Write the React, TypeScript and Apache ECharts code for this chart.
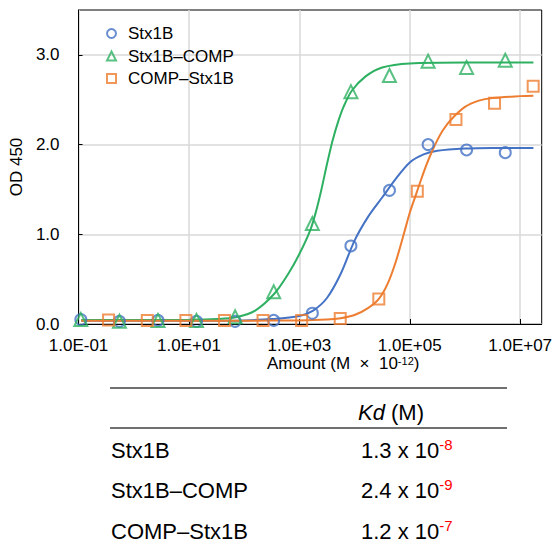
import React, { useEffect, useRef } from "react";
import * as echarts from "echarts";

// ---- Data ----
const xTickExponents = [-1, 1, 3, 5, 7];
const yTickValues = [0, 1, 2, 3];

const seriesNames = ["Stx1B", "Stx1B–COMP", "COMP–Stx1B"];

const stx1bAmount = [0.11, 0.55, 2.75, 13.7, 68.7, 343, 1720, 8590, 42900, 215000, 1070000, 5370000];
const stx1bOD = [0.05, 0.03, 0.04, 0.03, 0.03, 0.04, 0.12, 0.87, 1.49, 2.0, 1.94, 1.91];

const stx1bCompAmount = [0.11, 0.55, 2.75, 13.7, 68.7, 343, 1720, 8590, 42900, 215000, 1070000, 5370000];
const stx1bCompOD = [0.05, 0.03, 0.04, 0.04, 0.08, 0.36, 1.12, 2.59, 2.77, 2.93, 2.86, 2.94];

const compStx1bAmount = [0.35, 1.76, 8.8, 44, 220, 1100, 5500, 27500, 137000, 687000, 3430000, 17200000];
const compStx1bOD = [0.045, 0.04, 0.04, 0.04, 0.04, 0.04, 0.06, 0.28, 1.48, 2.28, 2.46, 2.65];

// fitted curves, sampled as (log10 amount, OD)
const stx1bCurveExp = [-0.95, 1, 2, 2.5, 3.0, 3.25, 3.5, 3.75, 4.0, 4.25, 4.5, 4.75, 5.0, 5.25, 5.5, 6.0, 6.5, 7.24];
const stx1bCurveOD = [0.035, 0.036, 0.04, 0.055, 0.09, 0.15, 0.29, 0.56, 0.93, 1.2, 1.41, 1.62, 1.8, 1.89, 1.93, 1.955, 1.962, 1.963];

const stx1bCompCurveExp = [-0.95, 0, 1, 1.5, 1.85, 2.2, 2.55, 2.8, 3.0, 3.2, 3.3, 3.4, 3.5, 3.6, 3.7, 3.8, 3.95, 4.2, 4.5, 5.0, 6.0, 7.24];
const stx1bCompCurveOD = [0.045, 0.045, 0.047, 0.055, 0.075, 0.15, 0.34, 0.56, 0.78, 1.05, 1.25, 1.5, 1.78, 2.04, 2.25, 2.42, 2.6, 2.76, 2.86, 2.905, 2.915, 2.915];

const compStx1bCurveExp = [-0.95, 1, 2, 3, 3.5, 3.75, 4.0, 4.25, 4.44, 4.6, 4.75, 4.9, 5.0, 5.1, 5.2, 5.3, 5.4, 5.5, 5.6, 5.75, 6.0, 6.25, 6.5, 7.0, 7.24];
const compStx1bCurveOD = [0.035, 0.035, 0.037, 0.04, 0.05, 0.065, 0.1, 0.18, 0.28, 0.45, 0.7, 1.02, 1.24, 1.42, 1.6, 1.77, 1.92, 2.05, 2.16, 2.28, 2.42, 2.49, 2.52, 2.54, 2.545];

// Kd table
const tableNames = ["Stx1B", "Stx1B–COMP", "COMP–Stx1B"];
const kdMantissa = ["1.3", "2.4", "1.2"];
const kdExponent = ["-8", "-9", "-7"];

const colors = ["#4472C4", "#2EB062", "#ED7D31"];
const symbols = ["circle", "triangle", "rect"];
const FONT = "'Liberation Sans', Arial, Helvetica, sans-serif";

function expLabel(v: number): string {
  const e = Math.round(v);
  const s = e < 0 ? "-" : "+";
  return "1.0E" + s + String(Math.abs(e)).padStart(2, "0");
}

export default function App() {
  const ref = useRef<HTMLDivElement>(null);

  useEffect(() => {
    if (!ref.current) return;
    const chart = echarts.init(ref.current, null, { renderer: "svg" });

    const amounts = [stx1bAmount, stx1bCompAmount, compStx1bAmount];
    const ods = [stx1bOD, stx1bCompOD, compStx1bOD];
    const curveExps = [stx1bCurveExp, stx1bCompCurveExp, compStx1bCurveExp];
    const curveODs = [stx1bCurveOD, stx1bCompCurveOD, compStx1bCurveOD];

    const lineSeries = curveExps.map((xs, i) => ({
      type: "line",
      name: seriesNames[i] + " fit",
      data: xs.map((x, j) => [x, curveODs[i][j]]),
      showSymbol: false,
      smooth: 0.3,
      lineStyle: { color: colors[i], width: 2 },
      itemStyle: { color: colors[i] },
      z: 2,
      silent: true,
    }));

    const scatterSeries = amounts.map((xs, i) => ({
      type: "scatter",
      name: seriesNames[i],
      data: xs.map((a, j) => [Math.log10(a), ods[i][j]]),
      symbol: symbols[i],
      symbolSize: i === 1 ? 13 : 11,
      itemStyle: { color: "rgba(255,255,255,0)", borderColor: colors[i], borderWidth: 2 },
      z: 3,
    }));

    const graphics: any[] = [];
    // x axis title
    graphics.push({
      type: "text",
      style: {
        x: 267,
        y: 363,
        text: "Amount (M  ×  10{s|-12})",
        fontFamily: FONT,
        fontSize: 17,
        fill: "#000",
        verticalAlign: "middle",
        rich: {
          s: { fontSize: 11, fontFamily: FONT, fill: "#000", verticalAlign: "top", lineHeight: 11 },
        },
        lineHeight: 16,
      },
    });
    // table lines
    [388, 428].forEach((y) => {
      graphics.push({
        type: "line",
        shape: { x1: 110, y1: y, x2: 507, y2: y },
        style: { stroke: "#404040", lineWidth: 1.5 },
      });
    });
    // header
    graphics.push({
      type: "text",
      style: {
        x: 358,
        y: 412,
        text: "{i|Kd} (M)",
        fontFamily: FONT,
        fontSize: 22,
        fill: "#000",
        verticalAlign: "middle",
        rich: { i: { fontStyle: "italic", fontFamily: FONT, fontSize: 22, fill: "#000" } },
      },
    });
    const rowY = [450, 490, 531];
    tableNames.forEach((n, i) => {
      graphics.push({
        type: "text",
        style: { x: 111, y: rowY[i], text: n, fontFamily: FONT, fontSize: 22, fill: "#000", verticalAlign: "middle" },
      });
      graphics.push({
        type: "text",
        style: {
          x: 361,
          y: rowY[i],
          text: kdMantissa[i] + " x 10{s|" + kdExponent[i] + "}",
          fontFamily: FONT,
          fontSize: 22,
          fill: "#000",
          verticalAlign: "middle",
          lineHeight: 26,
          rich: {
            s: { fontSize: 15, fontFamily: FONT, fill: "#FF0000", verticalAlign: "top", lineHeight: 15 },
          },
        },
      });
    });

    chart.setOption({
      animation: false,
      backgroundColor: "#fff",
      textStyle: { fontFamily: FONT },
      grid: {
        left: 77,
        right: 13,
        top: 10,
        bottom: 229,
        show: true,
        borderColor: "#000",
        borderWidth: 1,
        containLabel: false,
      },
      legend: {
        orient: "vertical",
        left: 101,
        top: 20,
        itemWidth: 9,
        itemHeight: 9,
        itemGap: 5.5,
        textStyle: { fontSize: 17, color: "#000", fontFamily: FONT, lineHeight: 17, padding: [0, 0, 0, 7] },
        data: seriesNames.map((n, i) => ({
          name: n,
          icon: symbols[i],
          itemStyle: { color: "rgba(255,255,255,0)", borderColor: colors[i], borderWidth: 2 },
        })),
      },
      xAxis: {
        type: "value",
        min: -1,
        max: 7.39,
        axisLine: { show: true, onZero: false, lineStyle: { color: "#000", width: 1 } },
        axisTick: { show: true, inside: true, length: 5, customValues: xTickExponents, lineStyle: { color: "#000" } },
        axisLabel: {
          customValues: xTickExponents,
          formatter: (v: number) => expLabel(v),
          fontSize: 17,
          color: "#000",
          fontFamily: FONT,
          margin: 13,
        },
        splitLine: { show: true, lineStyle: { color: "#d9d9d9", width: 1.5 } },
      },
      yAxis: {
        type: "value",
        min: 0,
        max: 3.5,
        name: "OD 450",
        nameLocation: "middle",
        nameGap: 51,
        nameTextStyle: { fontSize: 17, color: "#000", fontFamily: FONT },
        axisLine: { show: true, onZero: false, lineStyle: { color: "#000", width: 1 } },
        axisTick: { show: true, inside: true, length: 4, customValues: yTickValues, lineStyle: { color: "#000" } },
        axisLabel: {
          customValues: yTickValues,
          formatter: (v: number) => v.toFixed(1),
          fontSize: 17,
          color: "#000",
          fontFamily: FONT,
          margin: 19,
        },
        splitLine: { show: true, lineStyle: { color: "#d9d9d9", width: 1.5 } },
      },
      graphic: graphics,
      series: [...lineSeries, ...scatterSeries],
    });

    return () => chart.dispose();
  }, []);

  return <div ref={ref} style={{ width: 555, height: 553, position: "absolute", left: 0, top: 0 }} />;
}
